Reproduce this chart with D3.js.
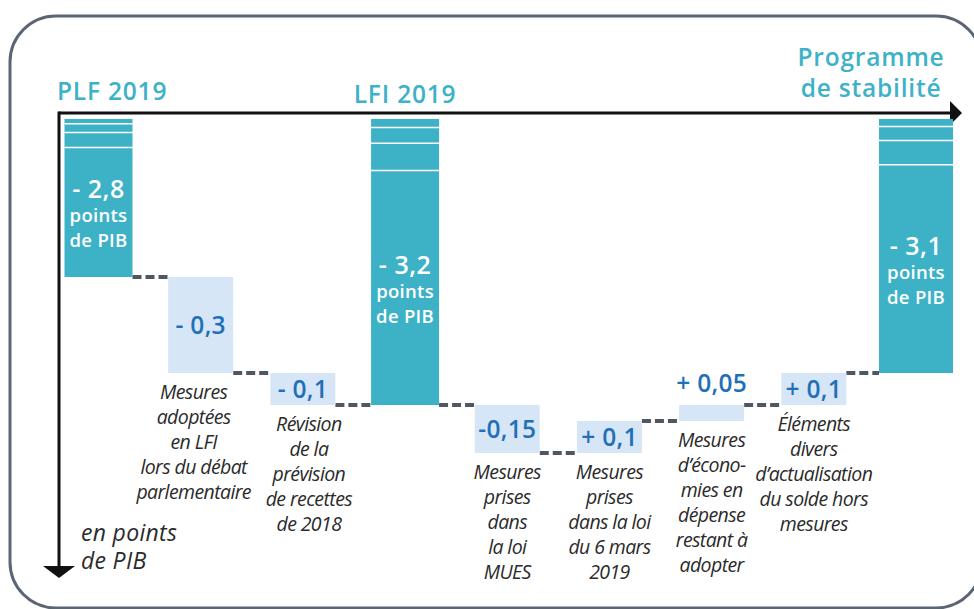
<!DOCTYPE html>
<html>
<head>
<meta charset="utf-8">
<script src="https://cdn.jsdelivr.net/npm/d3@7"></script>
<style>
  html, body { margin: 0; padding: 0; background: #fff; }
  svg { display: block; }
</style>
</head>
<body>
<div id="chart"></div>
<script>
"use strict";

/* ── Data ── */
const keys   = ["plf", "debat", "recettes", "lfi", "mues", "mars", "economies", "divers", "pstab"];
const kinds  = ["total", "step", "step", "total", "step", "step", "step", "step", "total"];
const values = [-2.8, -0.3, -0.1, -3.2, -0.15, 0.1, 0.05, 0.1, -3.1];
const valueLabels = ["- 2,8", "- 0,3", "- 0,1", "- 3,2", "-0,15", "+ 0,1", "+ 0,05", "+ 0,1", "- 3,1"];
const totalTitles = {
  plf:   ["PLF 2019"],
  lfi:   ["LFI 2019"],
  pstab: ["Programme", "de stabilité"]
};
const descriptions = {
  debat:     ["Mesures", "adoptées", "en LFI", "lors du débat", "parlementaire"],
  recettes:  ["Révision", "de la", "prévision", "de recettes", "de 2018"],
  mues:      ["Mesures", "prises", "dans", "la loi", "MUES"],
  mars:      ["Mesures", "prises", "dans la loi", "du 6 mars", "2019"],
  economies: ["Mesures", "d’écono-", "mies en", "dépense", "restant à", "adopter"],
  divers:    ["Éléments", "divers", "d’actualisation", "du solde hors", "mesures"]
};
const unitLabel = ["en points", "de PIB"];

/* ── Colours ── */
const TEAL  = "#3db2c7";
const PALE  = "#d6e6f6";
const BLUE  = "#1f70b8";
const DASH  = "#4f5765";
const FRAME = "#5c6572";

/* ── Running totals ── */
let run = 0;
const rows = keys.map((k, i) => {
  const start = kinds[i] === "total" ? null : run;
  run = kinds[i] === "total" ? values[i] : run + values[i];
  return { key: k, kind: kinds[i], value: values[i], label: valueLabels[i], start, end: run, i };
});

const W = 974, H = 609;
const svg = d3.select("#chart").append("svg")
  .attr("width", W).attr("height", H)
  .style("font-family", "'Open Sans', sans-serif");

/* ── Frame ── */
svg.append("rect")
  .attr("x", 10).attr("y", 16)
  .attr("width", 972).attr("height", 592)
  .attr("rx", 46).attr("ry", 46)
  .attr("fill", "none").attr("stroke", FRAME).attr("stroke-width", 3);

/* ── Scales (truncated value axis, totals are broken at the top) ── */
const x = d3.scalePoint().domain(keys).range([98.5, 916]);
const y = d3.scaleLinear().domain([-2.3, -3.7]).range([117, 565]);

const barW = d => d.kind === "step" ? 65 : (d.key === "pstab" ? 74 : 68);
const left = d => x(d.key) - barW(d) / 2;

/* ── Axes (arrows, no ticks) ── */
const axX = x.range()[0] - 39.5;
const axY = y.range()[0] - 4;
const axes = svg.append("g").attr("class", "axes");
axes.append("line")
  .attr("x1", axX).attr("x2", 952).attr("y1", axY).attr("y2", axY)
  .attr("stroke", "#111").attr("stroke-width", 3);
axes.append("path")
  .attr("d", `M950,${axY - 12}L962,${axY}L950,${axY + 12}Z`).attr("fill", "#111");
axes.append("line")
  .attr("x1", axX).attr("x2", axX).attr("y1", axY - 1.5).attr("y2", 568)
  .attr("stroke", "#111").attr("stroke-width", 3);
axes.append("path")
  .attr("d", `M${axX - 16},566L${axX},578L${axX + 16},566Z`).attr("fill", "#111");

/* ── Connectors ── */
const links = rows.slice(0, -1).map((d, i) => ({ a: d, b: rows[i + 1], v: d.end }));
svg.selectAll(".link")
  .data(links)
  .join("line")
  .attr("class", "link")
  .attr("x1", d => left(d.a) + barW(d.a))
  .attr("x2", d => left(d.b))
  .attr("y1", d => y(d.v)).attr("y2", d => y(d.v))
  .attr("stroke", DASH).attr("stroke-width", 4)
  .attr("stroke-dasharray", "9,4");

/* ── Total bars ── */
const totals = rows.filter(d => d.kind === "total");
const barTop = y.range()[0] + 2;
const tg = svg.selectAll(".total")
  .data(totals)
  .join("g")
  .attr("class", "total");

tg.append("rect")
  .attr("x", left)
  .attr("y", barTop)
  .attr("width", barW)
  .attr("height", d => y(d.value) - barTop)
  .attr("fill", TEAL);

// break marks at the top of the truncated bars
const breaks = [0.03, 0.085, 0.18];
tg.selectAll(".brk")
  .data(d => breaks.map(f => ({ d, f })))
  .join("line")
  .attr("class", "brk")
  .attr("x1", e => left(e.d)).attr("x2", e => left(e.d) + barW(e.d))
  .attr("y1", e => barTop + (y(e.d.value) - barTop) * e.f)
  .attr("y2", e => barTop + (y(e.d.value) - barTop) * e.f)
  .attr("stroke", "#fff").attr("stroke-width", 1.5);

// value text inside bars
tg.each(function (d) {
  const top = barTop + (y(d.value) - barTop) * breaks[2];
  const mid = (top + y(d.value)) / 2;
  const t = d3.select(this).append("text")
    .attr("text-anchor", "middle")
    .attr("fill", "#fff")
    .attr("font-weight", 600);
  t.append("tspan").attr("x", x(d.key)).attr("y", mid - 14)
    .attr("font-size", 25).attr("letter-spacing", 0.5).text(d.label);
  t.append("tspan").attr("x", x(d.key)).attr("y", mid + 10)
    .attr("font-size", 18.5).attr("letter-spacing", 0.3).text("points");
  t.append("tspan").attr("x", x(d.key)).attr("y", mid + 35)
    .attr("font-size", 18.5).attr("letter-spacing", 0.3).text("de PIB");
});

/* ── Titles above totals ── */
const titleX = { plf: d => axX - 2, lfi: d => x(d.key), pstab: d => x(d.key) - 45 };
const titleAnchor = { plf: "start", lfi: "middle", pstab: "middle" };
const titleBase = { plf: 100, lfi: 103, pstab: 66 };
totals.forEach(d => {
  const t = svg.append("text")
    .attr("text-anchor", titleAnchor[d.key])
    .attr("fill", TEAL)
    .attr("font-weight", 600)
    .attr("font-size", 24.5)
    .attr("letter-spacing", 0.8);
  totalTitles[d.key].forEach((s, j) => {
    t.append("tspan").attr("x", titleX[d.key](d)).attr("y", titleBase[d.key] + j * 31).text(s);
  });
});

/* ── Step boxes ── */
const steps = rows.filter(d => d.kind === "step");
const sg = svg.selectAll(".step")
  .data(steps)
  .join("g")
  .attr("class", "step");

const boxTop = d => Math.min(y(d.start), y(d.end));
const boxBot = d => Math.max(y(d.start), y(d.end));

sg.append("rect")
  .attr("x", left)
  .attr("y", boxTop)
  .attr("width", barW)
  .attr("height", d => boxBot(d) - boxTop(d))
  .attr("fill", PALE);

sg.append("text")
  .attr("x", d => x(d.key))
  .attr("y", d => (boxBot(d) - boxTop(d)) < 28 ? boxTop(d) - 13 : (boxTop(d) + boxBot(d)) / 2 + 8.5)
  .attr("text-anchor", "middle")
  .attr("fill", BLUE)
  .attr("font-weight", 600)
  .attr("font-size", 24.5)
  .attr("letter-spacing", 0.3)
  .text(d => d.label);

// descriptions under the boxes (first two nudged apart, as in the original)
const descShift = { debat: -7, recettes: 6 };
sg.append("text")
  .attr("text-anchor", "middle")
  .attr("fill", "#2b2b2b")
  .attr("font-style", "italic")
  .attr("font-size", 19.5)
  .attr("letter-spacing", -0.6)
  .each(function (d) {
    d3.select(this).selectAll("tspan")
      .data(descriptions[d.key])
      .join("tspan")
      .attr("x", x(d.key) + (descShift[d.key] || 0))
      .attr("y", (s, j) => boxBot(d) + 26 + j * 25)
      .text(s => s);
  });

/* ── Unit label ── */
svg.append("text")
  .attr("fill", "#2b2b2b")
  .attr("font-style", "italic")
  .attr("font-size", 23)
  .attr("letter-spacing", 0.3)
  .selectAll("tspan")
  .data(unitLabel)
  .join("tspan")
  .attr("x", axX + 22)
  .attr("y", (s, j) => 541 + j * 28)
  .text(s => s);
</script>
</body>
</html>
